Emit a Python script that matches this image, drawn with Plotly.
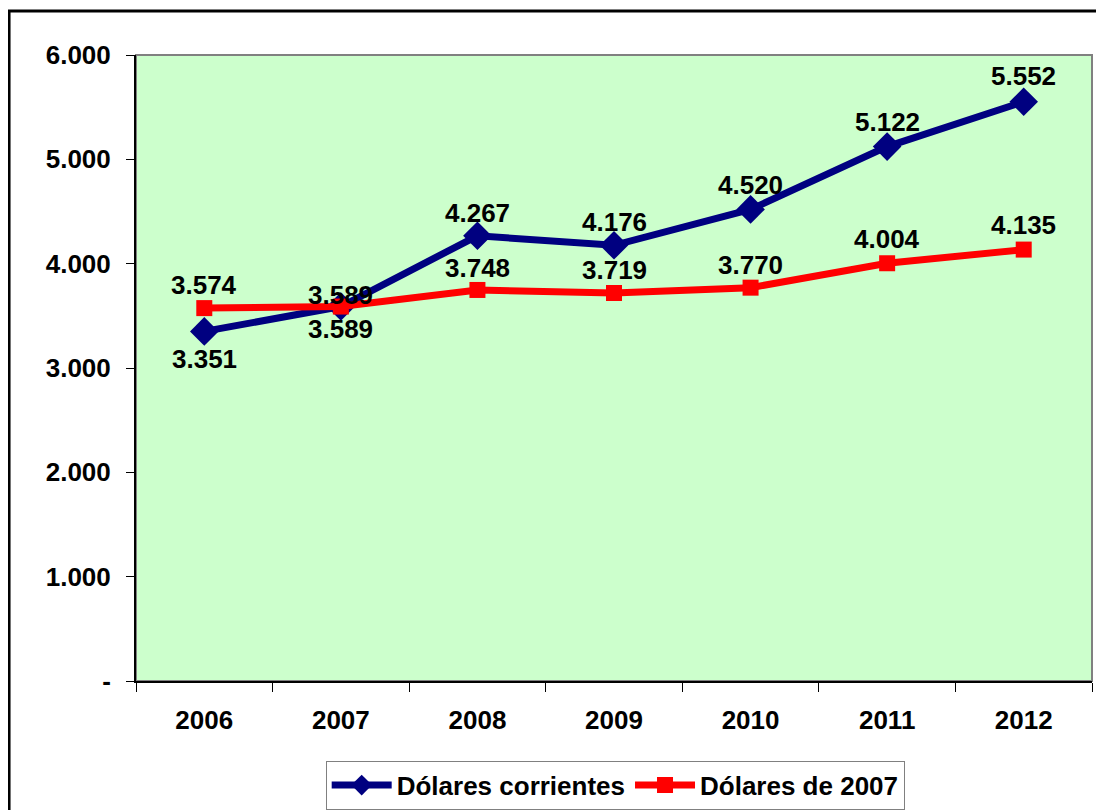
import plotly.graph_objects as go

years = ["2006", "2007", "2008", "2009", "2010", "2011", "2012"]
corrientes = [3351, 3589, 4267, 4176, 4520, 5122, 5552]
constantes = [3574, 3589, 3748, 3719, 3770, 4004, 4135]
corr_labels = ["3.351", "3.589", "4.267", "4.176", "4.520", "5.122", "5.552"]
const_labels = ["3.574", "3.589", "3.748", "3.719", "3.770", "4.004", "4.135"]
y_ticks = [0, 1000, 2000, 3000, 4000, 5000, 6000]
y_ticktext = ["-", "1.000", "2.000", "3.000", "4.000", "5.000", "6.000"]

# label vertical offsets in pixels (positive = above the point)
corr_shift = [-28, 12, 23, 23, 24, 25, 26]
const_shift = [23, -22, 22, 23, 23, 24, 25]

FONT = "Liberation Sans, Arial, sans-serif"
LABEL_FONT = dict(family=FONT, size=26, color="black", weight="bold")

fig = go.Figure()
fig.add_trace(go.Scatter(
    x=years, y=corrientes, name="Dólares corrientes", mode="lines+markers",
    line=dict(color="#000080", width=7),
    marker=dict(symbol="diamond", size=22, color="#000080"),
))
fig.add_trace(go.Scatter(
    x=years, y=constantes, name="Dólares de 2007", mode="lines+markers",
    line=dict(color="#FF0000", width=7),
    marker=dict(symbol="square", size=16, color="#FF0000"),
))

# data labels (category axis: annotation x given as category index)
for ys, labels, shifts in ((corrientes, corr_labels, corr_shift),
                           (constantes, const_labels, const_shift)):
    for i, (yv, t, s) in enumerate(zip(ys, labels, shifts)):
        fig.add_annotation(x=i, y=yv, xref="x", yref="y", text=t, showarrow=False,
                           yshift=s, font=LABEL_FONT, xanchor="center", yanchor="middle")

# outer chart border
fig.add_shape(type="rect", xref="paper", yref="paper",
              x0=-0.1328, x1=1.3, y0=-0.4, y1=1.0703,
              line=dict(color="black", width=3), layer="below")
# plot-area gray frame
fig.add_shape(type="rect", xref="paper", yref="paper",
              x0=0, x1=1, y0=0, y1=1,
              line=dict(color="#808080", width=2), layer="below")

fig.update_layout(
    width=1096, height=802,
    margin=dict(l=128, r=12, t=47, b=129, autoexpand=False),
    paper_bgcolor="white", plot_bgcolor="#CCFFCC",
    font=dict(family=FONT, color="black"),
    showlegend=True,
    legend=dict(orientation="h", xref="container", yref="container",
                x=0.554, xanchor="center", y=0.031, yanchor="middle",
                bordercolor="#808080", borderwidth=1, bgcolor="white",
                font=dict(family=FONT, size=26, color="black", weight="bold"),
                itemwidth=60, tracegroupgap=0),
)
fig.update_xaxes(
    type="category", tickson="boundaries", ticks="outside", ticklen=9,
    tickcolor="black", showline=True, linecolor="black", linewidth=2,
    showgrid=False, tickfont=dict(family=FONT, size=26, color="black", weight="bold"),
    range=[-0.5, 6.5], automargin=False, ticklabelstandoff=15,
)
fig.update_yaxes(
    range=[0, 6000], tickvals=y_ticks, ticktext=y_ticktext,
    ticks="outside", ticklen=8, tickcolor="black", showline=True, linecolor="black",
    linewidth=2, showgrid=False, zeroline=False, automargin=False,
    tickfont=dict(family=FONT, size=26, color="black", weight="bold"),
    ticklabelstandoff=10,
)

fig.write_html("out.html")
